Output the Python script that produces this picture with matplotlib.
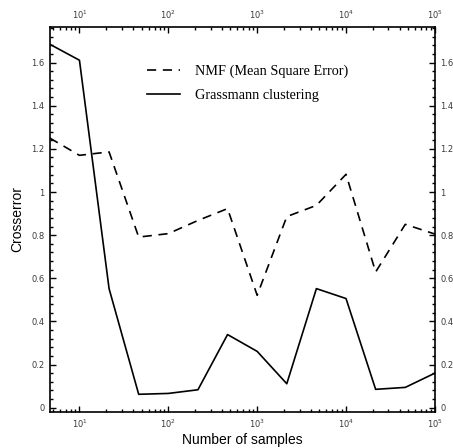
import numpy as np
import matplotlib
matplotlib.use("Agg")
import matplotlib.pyplot as plt
from matplotlib.ticker import FixedLocator, LogLocator, FuncFormatter, MultipleLocator, NullFormatter

# Data
exponents = [2/3, 1, 4/3, 5/3, 2, 7/3, 8/3, 3, 10/3, 11/3, 4, 13/3, 14/3, 5]
samples = [10 ** e for e in exponents]
nmf = [1.250, 1.170, 1.186, 0.791, 0.807, 0.868, 0.923, 0.521, 0.886, 0.938, 1.082, 0.629, 0.850, 0.805]
grass = [1.685, 1.611, 0.552, 0.062, 0.066, 0.083, 0.339, 0.261, 0.111, 0.552, 0.506, 0.085, 0.094, 0.160]
xtick_vals = [10, 100, 1000, 10000, 100000]
ytick_vals = [0, 0.2, 0.4, 0.6, 0.8, 1.0, 1.2, 1.4, 1.6]

fig = plt.figure(figsize=(4.53, 4.48), dpi=100)
ax = fig.add_axes([0.110, 0.0804, 0.850, 0.8593])

l1, = ax.plot(samples, nmf, color='black', lw=1.2, linestyle='--', dashes=(5.5, 4.0),
              label='NMF (Mean Square Error)')
l2, = ax.plot(samples, grass, color='black', lw=1.2, label='Grassmann clustering')

ax.set_xscale('log')
ax.set_xlim(10 ** (2/3), 1e5)
ax.set_ylim(-0.02, 1.765)

ax.xaxis.set_major_locator(FixedLocator(xtick_vals))
ax.xaxis.set_minor_locator(LogLocator(base=10, subs=np.arange(2, 10)))
ax.xaxis.set_minor_formatter(NullFormatter())
ax.xaxis.set_major_formatter(FuncFormatter(lambda v, p: r'$10^{%d}$' % round(np.log10(v))))
ax.yaxis.set_major_locator(FixedLocator(ytick_vals))
ax.yaxis.set_minor_locator(MultipleLocator(0.04))
ax.yaxis.set_major_formatter(FuncFormatter(lambda v, p: '%g' % round(v, 2)))

ax.tick_params(which='both', direction='in', top=True, right=True,
               labeltop=True, labelright=True, width=1.0, colors='black',
               labelcolor='#3a3a3a', labelsize=6)
ax.tick_params(which='major', length=4, pad=4)
ax.tick_params(which='minor', length=2)
for s in ax.spines.values():
    s.set_linewidth(1.2)

ax.set_xlabel('Number of samples', fontsize=10, family='Liberation Sans', labelpad=2)
ax.set_ylabel('Crosserror', fontsize=10, family='Liberation Sans', labelpad=5)

leg = ax.legend(handles=[l1, l2], loc='upper left', bbox_to_anchor=(0.218, 0.935),
                frameon=False, prop={'family': 'Liberation Serif', 'size': 10.3},
                handlelength=2.3, handletextpad=1.05, labelspacing=0.75)

fig.savefig('out.png', dpi=100)
